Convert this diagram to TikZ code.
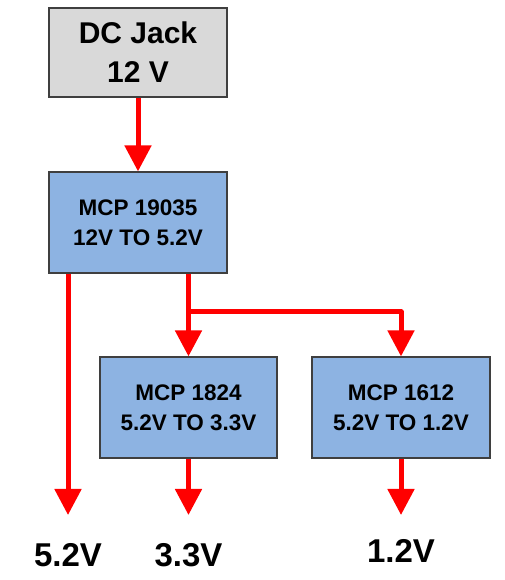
\documentclass[tikz,border=0pt]{standalone}
\usepackage{fontspec}
\setmainfont{Liberation Sans}
\usetikzlibrary{arrows.meta}
\definecolor{boxgray}{HTML}{D9D9D9}
\definecolor{boxblue}{HTML}{8DB3E2}
\definecolor{edge}{HTML}{3F3F3F}
\definecolor{wire}{HTML}{FF0000}
\tikzset{
  box/.style={draw=edge, line width=1.2pt, minimum width=178pt, inner sep=0pt, align=center, font=\bfseries\fontsize{22.5}{30}\selectfont},
  graybox/.style={box, fill=boxgray, minimum height=89pt, font=\bfseries\fontsize{30}{39}\selectfont},
  bluebox/.style={box, fill=boxblue, minimum height=101pt},
  arr/.style={draw=wire, line width=5pt, line join=round, -{Triangle[width=26pt,length=26pt]}},
  outlabel/.style={font=\bfseries\fontsize{33}{38}\selectfont, anchor=base, inner sep=0pt}
}
\begin{document}
\begin{tikzpicture}[x=1pt,y=1pt]
\useasboundingbox (0,0) rectangle (505,580);
\node[graybox] (dc) at (138,527.5) {DC Jack\\12 V};
\node[bluebox] (m1) at (138,357.5) {MCP 19035\\12V TO 5.2V};
\node[bluebox, minimum width=177pt] (m2) at (188.5,172.5) {MCP 1824\\5.2V TO 3.3V};
\node[bluebox] (m3) at (401,172.5) {MCP 1612\\5.2V TO 1.2V};
\coordinate (t1) at (68,65);
\coordinate (t2) at (188.5,65);
\coordinate (t3) at (401,65);
\coordinate (j) at (188.5,268);
\draw[arr] (dc.south) -- (m1.north);
\draw[arr] (m1.south -| t1) -- (t1);
\draw[arr] (m1.south -| j) -- (m2.north);
\draw[arr] (j) -| (m3.north);
\draw[arr] (m2.south) -- (t2);
\draw[arr] (m3.south) -- (t3);
\node[outlabel] (l1) at (68,13) {5.2V};
\node[outlabel] (l2) at (188.5,13) {3.3V};
\node[outlabel] (l3) at (401,17) {1.2V};
\end{tikzpicture}
\end{document}
